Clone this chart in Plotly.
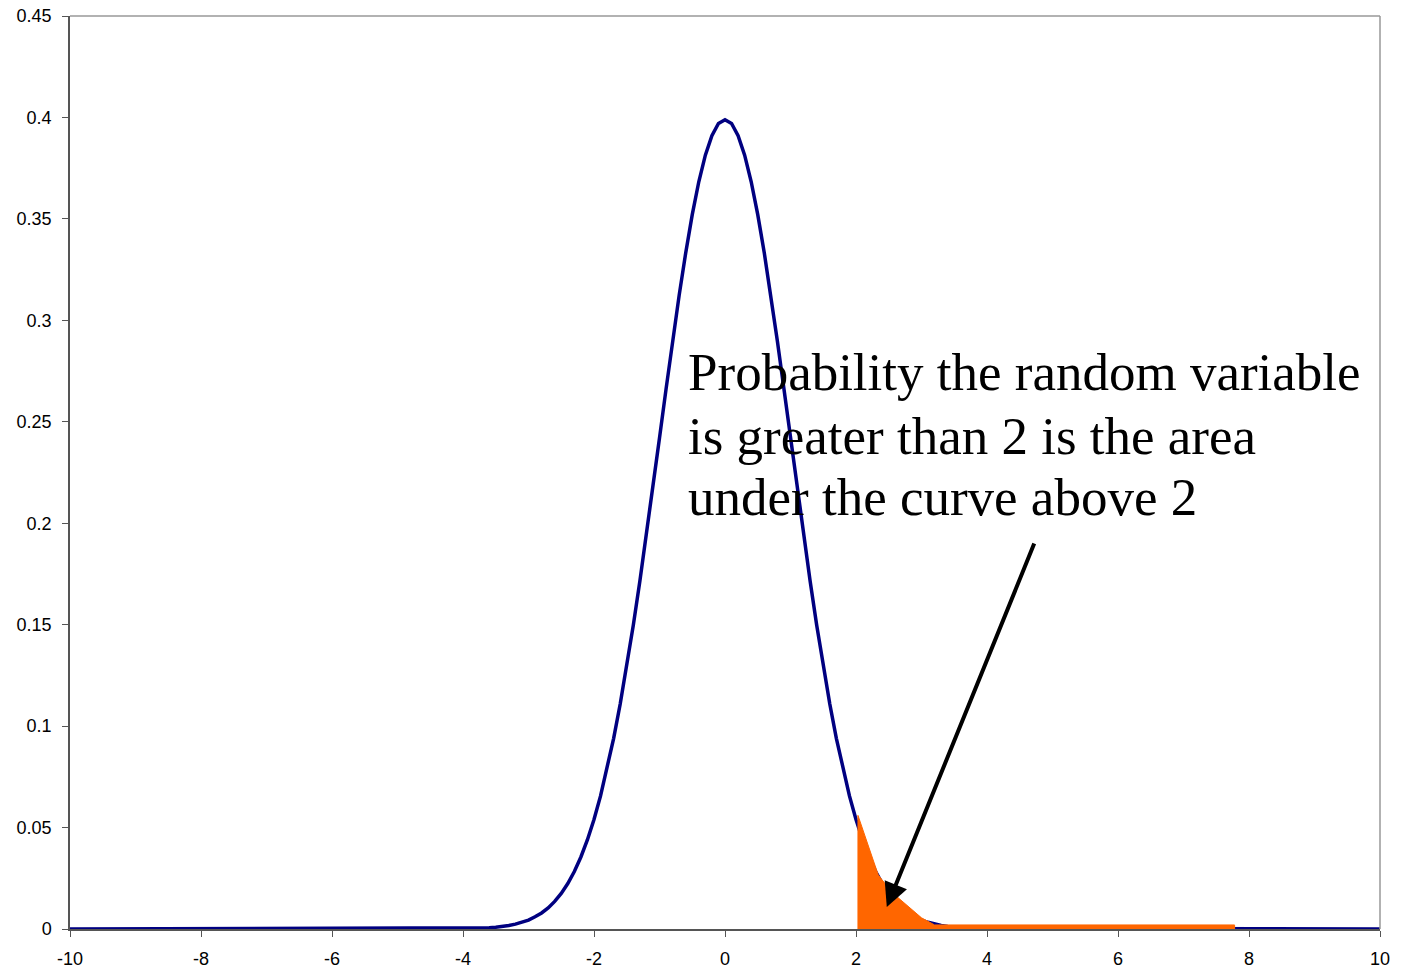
import plotly.graph_objects as go

# Standard normal density curve
curve_x = [-10, -3.8, -3.7, -3.6, -3.5, -3.4, -3.3, -3.2, -3.1, -3.0, -2.9, -2.8, -2.7, -2.6, -2.5,
           -2.4, -2.3, -2.2, -2.1, -2.0, -1.9, -1.8, -1.7, -1.6, -1.5, -1.4, -1.3, -1.2, -1.1,
           -1.0, -0.9, -0.8, -0.7, -0.6, -0.5, -0.4, -0.3, -0.2, -0.1, 0.0, 0.1, 0.2, 0.3, 0.4,
           0.5, 0.6, 0.7, 0.8, 0.9, 1.0, 1.1, 1.2, 1.3, 1.4, 1.5, 1.6, 1.7, 1.8, 1.9, 2.0, 2.1,
           2.2, 2.3, 2.4, 2.5, 2.6, 2.7, 2.8, 2.9, 3.0, 3.1, 3.2, 3.3, 3.4, 3.5, 3.6, 3.7, 3.8, 10]
curve_y = [0, 0.0003, 0.0004, 0.0006, 0.0009, 0.0012, 0.0017, 0.0024, 0.0033, 0.0044, 0.0060,
           0.0079, 0.0104, 0.0136, 0.0175, 0.0224, 0.0283, 0.0355, 0.0440, 0.0540, 0.0656, 0.0790,
           0.0940, 0.1109, 0.1295, 0.1497, 0.1714, 0.1942, 0.2179, 0.2420, 0.2661, 0.2897, 0.3123,
           0.3332, 0.3521, 0.3683, 0.3814, 0.3910, 0.3970, 0.3989, 0.3970, 0.3910, 0.3814, 0.3683,
           0.3521, 0.3332, 0.3123, 0.2897, 0.2661, 0.2420, 0.2179, 0.1942, 0.1714, 0.1497, 0.1295,
           0.1109, 0.0940, 0.0790, 0.0656, 0.0540, 0.0440, 0.0355, 0.0283, 0.0224, 0.0175, 0.0136,
           0.0104, 0.0079, 0.0060, 0.0044, 0.0033, 0.0024, 0.0017, 0.0012, 0.0009, 0.0006, 0.0004,
           0.0003, 0]

# Shaded tail area (x > 2)
tail_x = [2.03, 2.03, 2.34, 2.55, 3.0, 3.2, 7.78, 7.78, 2.03]
tail_y = [0, 0.056, 0.0266, 0.018, 0.0055, 0.002, 0.002, 0, 0]

label_lines = ["Probability the random variable",
               "is greater than 2 is the area",
               "under the curve above 2"]
label_y = [0.2743, 0.2432, 0.2127]
label_x = -0.6
arrow_tail = (4.73, 0.1907)
arrow_head = (2.47, 0.0108)

x_ticks = [-10, -8, -6, -4, -2, 0, 2, 4, 6, 8, 10]
y_ticks = [0, 0.05, 0.1, 0.15, 0.2, 0.25, 0.3, 0.35, 0.4, 0.45]

fig = go.Figure()
fig.add_trace(go.Scatter(x=curve_x, y=curve_y, mode="lines",
                         line=dict(color="#000080", width=3.5), hoverinfo="skip"))
fig.add_trace(go.Scatter(x=tail_x, y=tail_y, mode="lines", fill="toself",
                         fillcolor="#FF6600", line=dict(color="#FF6600", width=1),
                         hoverinfo="skip"))

fig.add_annotation(x=arrow_head[0], y=arrow_head[1], ax=arrow_tail[0], ay=arrow_tail[1],
                   xref="x", yref="y", axref="x", ayref="y", text="", showarrow=True,
                   arrowhead=2, arrowsize=1.2, arrowwidth=4, arrowcolor="#000000")
for txt, yy in zip(label_lines, label_y):
    fig.add_annotation(x=label_x, y=yy, xref="x", yref="y", text=txt, showarrow=False,
                       xanchor="left", yanchor="middle", align="left",
                       font=dict(family="Liberation Serif", size=53, color="#000000"))

fig.add_shape(type="line", xref="paper", yref="paper", x0=0, x1=1, y0=1, y1=1,
              line=dict(color="#999999", width=1.5))
fig.add_shape(type="line", xref="paper", yref="paper", x0=1, x1=1, y0=0, y1=1,
              line=dict(color="#999999", width=1.5))

fig.update_layout(
    width=1404, height=969,
    margin=dict(l=70, r=24, t=16, b=40),
    plot_bgcolor="white", paper_bgcolor="white",
    showlegend=False,
    font=dict(family="Liberation Sans", size=18, color="#000000"),
)
fig.update_xaxes(range=[-10, 10], tickvals=x_ticks, ticktext=[str(v) for v in x_ticks],
                 showgrid=False, zeroline=False, showline=True, linecolor="#555555",
                 linewidth=1.5, ticks="outside", ticklen=6, tickcolor="#555555",
                 automargin=False, ticklabelstandoff=7)
fig.update_yaxes(range=[0, 0.45], tickvals=y_ticks, ticktext=[("%g" % v) for v in y_ticks],
                 showgrid=False, zeroline=False, showline=True, linecolor="#555555",
                 linewidth=1.5, ticks="outside", ticklen=6, tickcolor="#555555",
                 automargin=False, ticklabelstandoff=7)

fig.write_html("out.html")
